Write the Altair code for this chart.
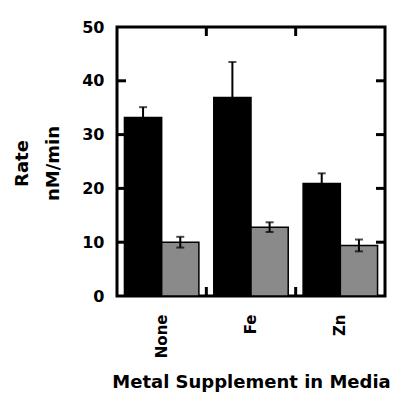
import altair as alt
import pandas as pd

metals = ["None", "Fe", "Zn"]
series = ["Condition 1", "Condition 2"]
rate_1 = [33.2, 36.9, 20.9]
err_1 = [1.9, 6.6, 1.9]
rate_2 = [10.0, 12.8, 9.4]
err_2 = [1.0, 0.9, 1.1]
y_ticks = [0, 10, 20, 30, 40, 50]
inner_y_ticks = [10, 20, 30, 40]
inner_x_ticks = ["Fe", "Zn"]

rows = []
for i, m in enumerate(metals):
    rows.append({"metal": m, "series": series[0], "rate": rate_1[i], "err": err_1[i]})
    rows.append({"metal": m, "series": series[1], "rate": rate_2[i], "err": err_2[i]})
df = pd.DataFrame(rows)
df["lo"] = df["rate"] - df["err"]
df["hi"] = df["rate"] + df["err"]

FONT = "DejaVu Sans"
W, H = 268, 269

x_scale = alt.Scale(domain=metals, paddingInner=0, paddingOuter=0)
y_scale = alt.Scale(domain=[0, 50], nice=False, zero=True)
xo_scale = alt.Scale(domain=series, paddingInner=0, paddingOuter=0.2)

x_axis = alt.Axis(
    title="Metal Supplement in Media", titleFont=FONT, titleFontSize=18, titleFontWeight="bold",
    titleColor="black", titleBaseline="alphabetic", titleY=91,
    labelFont=FONT, labelFontSize=15, labelFontWeight="bold", labelColor="black",
    labelAngle=270, labelAlign="right", labelBaseline="middle", labelPadding=18,
    domain=False, ticks=False, grid=False,
)
y_axis = alt.Axis(
    title=["Rate", "nM/min"], titleFont=FONT, titleFontSize=18, titleFontWeight="bold",
    titleColor="black", titleLineHeight=31, titleBaseline="alphabetic", titleAlign="center",
    titleX=-90, titleY=136, titleAngle=270,
    values=y_ticks, labelFont=FONT, labelFontSize=16, labelFontWeight="bold", labelColor="black",
    labelPadding=13, domain=False, ticks=False, grid=False,
)

X = alt.X("metal:N", scale=x_scale, axis=x_axis, sort=metals)
XO = alt.XOffset("series:N", scale=xo_scale, sort=series)

bars = alt.Chart(df).mark_bar(stroke="black", strokeWidth=1.5).encode(
    x=X,
    xOffset=XO,
    y=alt.Y("rate:Q", scale=y_scale, axis=y_axis),
    color=alt.Color("series:N", scale=alt.Scale(domain=series, range=["#000000", "#8a8a8a"]), legend=None),
)

err = alt.Chart(df).mark_rule(color="black", strokeWidth=2).encode(
    x=X, xOffset=XO,
    y=alt.Y("lo:Q", scale=y_scale, axis=y_axis),
    y2="hi:Q",
)
cap_hi = alt.Chart(df).mark_tick(color="black", size=8, thickness=2).encode(
    x=X, xOffset=XO, y=alt.Y("hi:Q", scale=y_scale, axis=y_axis),
)
cap_lo = alt.Chart(df).mark_tick(color="black", size=8, thickness=2).encode(
    x=X, xOffset=XO, y=alt.Y("lo:Q", scale=y_scale, axis=y_axis),
)

ydf = pd.DataFrame({"v": inner_y_ticks})
ytick_l = alt.Chart(ydf).mark_rule(color="black", strokeWidth=3).encode(
    y=alt.Y("v:Q", scale=y_scale, axis=y_axis), x=alt.value(0), x2=alt.value(9)
)
ytick_r = alt.Chart(ydf).mark_rule(color="black", strokeWidth=3).encode(
    y=alt.Y("v:Q", scale=y_scale, axis=y_axis), x=alt.value(W - 9), x2=alt.value(W)
)
xdf = pd.DataFrame({"metal": inner_x_ticks})
XB = alt.X("metal:N", scale=x_scale, axis=x_axis, sort=metals, bandPosition=0)
xtick_b = alt.Chart(xdf).mark_rule(color="black", strokeWidth=3).encode(
    x=XB, y=alt.value(H - 9), y2=alt.value(H)
)
xtick_t = alt.Chart(xdf).mark_rule(color="black", strokeWidth=3).encode(
    x=XB, y=alt.value(0), y2=alt.value(9)
)

chart = alt.layer(bars, err, cap_hi, cap_lo, ytick_l, ytick_r, xtick_b, xtick_t).properties(
    width=W, height=H,
    autosize=alt.AutoSizeParams(type="none"),
    padding={"left": 109, "top": 19, "right": 5, "bottom": 97},
    background="white",
).configure_view(stroke="black", strokeWidth=3)

chart.save("out.html", embed_options={"renderer": "svg", "actions": False})
